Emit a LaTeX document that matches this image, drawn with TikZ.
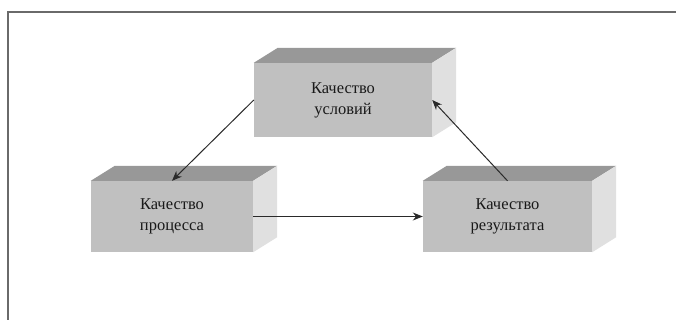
\documentclass[tikz,border=0pt]{standalone}
\usepackage{fontspec}
\setmainfont{Liberation Serif}
\usetikzlibrary{calc,arrows.meta}
\definecolor{frontc}{HTML}{C0C0C0}
\definecolor{topc}{HTML}{989898}
\definecolor{sidec}{HTML}{E0E0E0}
\definecolor{framec}{HTML}{6A6A6A}
\definecolor{arrc}{HTML}{2A2A2A}
\tikzset{
  front/.style={fill=frontc, draw=none, minimum width=178pt, minimum height=74pt,
    align=center, inner sep=0pt, font=\fontsize{16.5}{21}\selectfont, text=black!90},
  conn/.style={draw=arrc, line width=1pt, -{Stealth[length=10pt,width=8pt]}},
}
\newcommand{\boxfaces}[1]{%
  \fill[topc] (#1.north west) -- ++(24,-15) -- ($(#1.north east)+(24,-15)$) -- (#1.north east) -- cycle;
  \fill[sidec] (#1.north east) -- ++(24,-15) -- ($(#1.south east)+(24,-15)$) -- (#1.south east) -- cycle;
}
\begin{document}
\begin{tikzpicture}[x=1pt,y=-1pt]
\useasboundingbox (0,0) rectangle (676,320);
\fill[white] (0,0) rectangle (676,320);
\draw[framec, line width=1.3pt] (8,321) -- (8,12) -- (677,12);
\node[front] (q1) at (343,100) {Качество\\условий};
\node[front, minimum width=162pt, minimum height=71pt] (q2) at (172,216.5) {Качество\\процесса};
\node[front, minimum width=169pt, minimum height=71pt] (q3) at (507.5,216.5) {Качество\\результата};
\boxfaces{q1}
\boxfaces{q2}
\boxfaces{q3}
\draw[conn] (q1.west) -- (q2.north);
\draw[conn] (q2.east) -- (q3.west);
\draw[conn] (q3.north) -- (q1.east);
\end{tikzpicture}
\end{document}
